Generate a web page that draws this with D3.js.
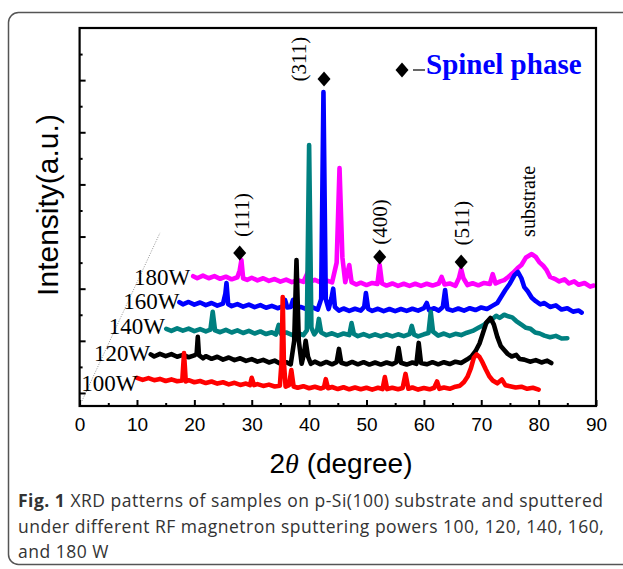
<!DOCTYPE html>
<meta charset="utf-8">
<script src="https://d3js.org/d3.v7.min.js"></script>
<style>
  body { margin: 0; background: #fff; }
</style>
<div id="chart"></div>
<script>
  // 2theta (degree), intensity (a.u.)
  var s100 = [[10,58],[11,50],[12,57],[13,49],[14,54],[15,46],[16,52],[17,45],[17.9,48],[18.2,153],[18.5,44],[19,49],[20,41],[21,46],[22,38],[23,44],[24,36],[25,41],[26,33],[27,39],[28,31],[29,36],[29.7,30],[30,58],[30.4,30],[31,34],[32,27],[33,32],[34,25],[34.9,28],[35.2,120],[35.4,368],[35.6,120],[35.9,24],[36.5,30],[36.9,88],[37.3,25],[38,20],[39,26],[40,18],[41,24],[42,17],[42.6,22],[42.9,53],[43.3,18],[44,23],[45,15],[46,22],[47,14],[48,21],[49,14],[50,20],[51,13],[52,20],[52.8,15],[53.2,61],[53.6,15],[54.5,20],[55.5,14],[56.3,19],[56.8,73],[57.3,16],[58,21],[59,13],[60,19],[61,14],[61.8,20],[62.3,44],[62.7,16],[63.5,21],[64.5,16],[65.5,24],[66.3,28],[67,42],[67.6,62],[68.2,95],[68.7,135],[69.2,148],[69.7,138],[70.2,118],[70.8,90],[71.4,64],[72,48],[72.8,37],[73.6,52],[74.2,30],[75,26],[76,21],[77,24],[78,16],[79,20],[80,13]];
  var s120 = [[12.4,148],[13,140],[14,150],[15,141],[16,149],[17,139],[18,146],[19,137],[20,144],[20.4,150],[20.6,215],[20.8,145],[21.5,133],[22,141],[23,131],[24,139],[25,128],[26,136],[27,126],[28,133],[29,123],[30,130],[31,120],[32,127],[33,117],[34,124],[35,112],[36,118],[36.8,110],[37.4,200],[37.8,510],[38.2,200],[38.7,112],[39.1,150],[39.4,200],[39.8,140],[40.3,112],[41,120],[42,110],[43,119],[44,110],[44.8,118],[45.2,169],[45.6,116],[46.5,110],[47.5,119],[48.5,110],[49.5,118],[50.5,109],[51.5,117],[52.5,109],[53.5,117],[54.5,110],[55.2,118],[55.6,172],[56,116],[57,109],[58,117],[58.7,112],[59.1,192],[59.5,115],[60.5,110],[61.5,118],[62.5,110],[63.5,118],[64.5,111],[65.5,120],[66.5,115],[67.5,128],[68.3,140],[69,160],[69.7,190],[70.3,230],[70.9,270],[71.6,288],[72.2,262],[72.8,215],[73.4,180],[74,165],[74.6,150],[75.3,140],[76.1,146],[76.7,130],[77.5,128],[78.5,120],[79.5,126],[80.5,117],[81.5,124],[82.2,115]];
  var s140 = [[15.1,246],[16,238],[17,248],[18,239],[19,247],[20,237],[21,245],[22,236],[22.8,243],[23.2,311],[23.6,240],[24.5,233],[25.5,242],[26.5,232],[27.5,240],[28.5,230],[29.5,238],[30.5,228],[31.5,236],[32.5,226],[33.5,233],[34.2,224],[34.7,261],[35.1,226],[36,232],[37,223],[38,230],[39,222],[39.6,240],[40.0,951],[40.4,250],[40.9,225],[41.4,240],[41.7,284],[42.1,232],[43,222],[44,229],[45,220],[46,228],[47,222],[47.4,268],[47.8,226],[48.5,218],[49.5,226],[50.5,217],[51.5,225],[52.5,217],[53.5,225],[54.5,217],[55.5,225],[56.5,218],[57.5,226],[57.9,257],[58.3,224],[59,217],[60,225],[60.8,230],[61.2,311],[61.6,235],[62.5,220],[63.5,228],[64.5,219],[65.5,227],[66.5,222],[67.5,231],[68.5,238],[69.5,250],[70.5,262],[71.3,276],[72,285],[72.6,296],[73.2,288],[74,300],[74.7,294],[75.4,290],[76.1,276],[77,262],[77.8,250],[78.6,246],[79.4,232],[80.2,228],[81,220],[82,214],[83,219],[84,209],[85,210]];
  var s160 = [[17.4,348],[18,340],[19,349],[20,339],[21,347],[22,337],[23,345],[24,335],[25,343],[25.4,380],[25.6,422],[25.9,340],[26.5,333],[27.5,341],[28.5,331],[29.5,339],[30.5,329],[31.5,337],[32.5,327],[33.5,334],[34.5,325],[35.4,332],[35.8,357],[36.2,328],[36.8,330],[37.2,357],[37.6,326],[38.5,330],[39.5,322],[40.5,329],[41.5,320],[42.1,360],[42.5,1154],[42.9,360],[43.4,322],[43.9,365],[44.2,400],[44.5,330],[45.2,316],[46,324],[47,315],[48,323],[49,316],[49.6,330],[49.9,383],[50.3,322],[51,315],[52,323],[53,314],[54,322],[55,314],[56,322],[57,315],[58,323],[59,316],[60,325],[60.5,345],[60.9,318],[61.8,325],[62.6,316],[63.3,330],[63.7,395],[64.1,322],[65,316],[66,324],[67,316],[68,325],[69,318],[70,328],[71,322],[72,335],[72.8,345],[73.5,370],[74.2,395],[75,420],[75.8,452],[76.4,464],[77,440],[77.5,406],[78.1,390],[78.8,365],[79.5,352],[80.3,340],[81,345],[82,330],[83,336],[84,320],[85,325],[86,312],[87,316],[87.5,308]];
  var s180 = [[19.8,448],[20.5,440],[21.5,450],[22.5,440],[23.5,448],[24.5,438],[25.5,446],[26.5,436],[27.5,444],[27.9,470],[28.2,510],[28.5,440],[29.2,434],[30,442],[31,432],[32,440],[33,430],[34,437],[35,427],[36,435],[37,425],[38,433],[39,426],[39.8,464],[40.3,428],[41,434],[42,424],[43,432],[44,424],[44.8,500],[45.3,863],[45.8,520],[46.3,425],[47,491],[47.4,425],[48.2,416],[49,423],[50,414],[51,422],[51.9,418],[52.3,491],[52.7,420],[53.5,412],[54.5,420],[55.5,411],[56.5,419],[57.5,411],[58.5,419],[59.5,411],[60.5,419],[61.5,412],[62.6,420],[63.1,445],[63.6,416],[64.5,420],[65.5,411],[66.1,440],[66.5,475],[66.9,440],[67.6,414],[68.5,421],[69.5,413],[70.5,422],[71.5,418],[72,456],[72.5,420],[73.3,428],[74,433],[74.7,445],[75.5,460],[76.3,478],[77,491],[77.8,520],[78.8,533],[79.5,522],[80.1,502],[80.8,488],[81.4,471],[82,445],[82.8,438],[83.6,428],[84.5,436],[85.3,420],[86.2,428],[87,415],[88,422],[89,408],[89.6,412]];

  var seriesNames = ["180W", "160W", "140W", "120W", "100W"];
  var seriesData = [s180, s160, s140, s120, s100];
  var seriesColors = ["#ff00ff", "#0000ff", "#008080", "#000000", "#ff0000"];
  // where each power label sits (2theta, intensity)
  var labelX = [19.3, 17.4, 14.9, 12.3, 10.1];
  var labelY = [413, 321, 226, 122, 7];

  // spinel peaks: hkl, 2theta, intensity of marker
  var peakHkl = ["(111)", "(311)", "(400)", "(511)"];
  var peakX = [27.9, 42.6, 52.3, 66.5];
  var peakY = [537, 1204, 522, 502];

  var xTicks = [0, 10, 20, 30, 40, 50, 60, 70, 80, 90];
  var xMinor = [5, 15, 25, 35, 45, 55, 65, 75, 85];
  var yMajor = [0, 200, 400, 600, 800, 1000, 1200];
  var yMinor = [100, 300, 500, 700, 900, 1100, 1300];

  var W = 623, H = 569;
  var svg = d3.select("#chart").append("svg")
    .attr("width", W)
    .attr("height", H)
    .style("font-family", "'Liberation Sans', Arial, sans-serif");

  // outer figure box
  svg.append("rect")
    .attr("x", 8.5).attr("y", 12.5)
    .attr("width", 640).attr("height", 552)
    .attr("rx", 10)
    .attr("fill", "none")
    .attr("stroke", "#555")
    .attr("stroke-width", 1.5);

  var x = d3.scaleLinear().domain([0, 90]).range([79.6, 596]);
  var y = d3.scaleLinear().domain([-50, 1400]).range([406, 28]);

  var plot = svg.append("g");

  // dotted guide line at the left
  plot.append("line")
    .attr("x1", x(0.4)).attr("y1", y(-31))
    .attr("x2", x(14)).attr("y2", y(614))
    .attr("stroke", "#777")
    .attr("stroke-width", 0.8)
    .attr("stroke-dasharray", "1,1.5");

  var line = d3.line()
    .x(function (d) { return x(d[0]); })
    .y(function (d) { return y(d[1]); });

  plot.selectAll(".xrd")
    .data(seriesData)
    .enter()
    .append("path")
    .attr("class", "xrd")
    .attr("d", line)
    .attr("fill", "none")
    .attr("stroke", function (d, i) { return seriesColors[i]; })
    .attr("stroke-width", 4.6)
    .attr("stroke-linejoin", "round")
    .attr("stroke-linecap", "round");

  // power labels
  plot.selectAll(".plabel")
    .data(seriesNames)
    .enter()
    .append("text")
    .attr("x", function (d, i) { return x(labelX[i]); })
    .attr("y", function (d, i) { return y(labelY[i]); })
    .attr("text-anchor", "end")
    .style("font-family", "'Liberation Serif', 'Times New Roman', serif")
    .style("font-size", "23px")
    .text(function (d) { return d; });

  // axes, ticks point inward
  var gx = plot.append("g").attr("transform", "translate(0," + y(-50) + ")");
  gx.call(d3.axisBottom(x).tickValues(xTicks).tickSize(-6).tickPadding(12).tickFormat(d3.format("d")));
  gx.append("g").call(d3.axisBottom(x).tickValues(xMinor).tickSize(-3).tickFormat(""));
  gx.selectAll(".domain").remove();
  gx.selectAll("line").attr("stroke", "#000").attr("stroke-width", 2);
  gx.selectAll("text")
    .style("font-family", "'Liberation Sans', Arial, sans-serif")
    .style("font-size", "19px")
    .attr("fill", "#000");

  var gy = plot.append("g").attr("transform", "translate(" + x(0) + ",0)");
  gy.call(d3.axisLeft(y).tickValues(yMajor).tickSize(-6).tickFormat(""));
  gy.append("g").call(d3.axisLeft(y).tickValues(yMinor).tickSize(-3).tickFormat(""));
  gy.selectAll(".domain").remove();
  gy.selectAll("line").attr("stroke", "#000").attr("stroke-width", 2);

  // frame
  plot.append("rect")
    .attr("x", x(0)).attr("y", y(1400))
    .attr("width", x(90) - x(0))
    .attr("height", y(-50) - y(1400))
    .attr("fill", "none")
    .attr("stroke", "#000")
    .attr("stroke-width", 2.2);

  var diamond = "M0,-7.5L6.5,0L0,7.5L-6.5,0Z";

  plot.selectAll(".dia")
    .data(peakX)
    .enter()
    .append("path")
    .attr("d", diamond)
    .attr("transform", function (d, i) { return "translate(" + x(d) + "," + y(peakY[i]) + ")"; })
    .attr("fill", "#000");

  // hkl labels, rotated
  var hklDx = [9, -18, 7, 8];
  var hklDy = [-38, -20, -35, -39];
  plot.selectAll(".hkl")
    .data(peakHkl)
    .enter()
    .append("text")
    .attr("transform", function (d, i) {
      return "translate(" + (x(peakX[i]) + hklDx[i]) + "," + (y(peakY[i]) + hklDy[i]) + ") rotate(-90)";
    })
    .attr("text-anchor", "middle")
    .style("font-family", "'Liberation Serif', 'Times New Roman', serif")
    .style("font-size", "21px")
    .text(function (d) { return d; });

  plot.append("text")
    .attr("transform", "translate(" + x(79.3) + "," + y(735) + ") rotate(-90)")
    .attr("text-anchor", "middle")
    .style("font-family", "'Liberation Serif', 'Times New Roman', serif")
    .style("font-size", "20px")
    .text("substrate");

  // legend
  var leg = plot.append("g").attr("transform", "translate(402,70)");
  leg.append("path").attr("d", diamond).attr("fill", "#000");
  leg.append("line")
    .attr("x1", 11).attr("x2", 23).attr("y1", 0).attr("y2", 0)
    .attr("stroke", "#000").attr("stroke-width", 1.2);
  leg.append("text")
    .attr("x", 24).attr("y", 4)
    .style("font-family", "'Liberation Serif', 'Times New Roman', serif")
    .style("font-weight", "bold")
    .style("font-size", "29px")
    .attr("fill", "#0000ff")
    .text("Spinel phase");

  // axis titles
  svg.append("text")
    .attr("transform", "translate(58,205) rotate(-90)")
    .attr("text-anchor", "middle")
    .style("font-size", "30px")
    .text("Intensity(a.u.)");

  var xt = svg.append("text")
    .attr("x", 341).attr("y", 473)
    .attr("text-anchor", "middle")
    .style("font-size", "28px");
  xt.append("tspan").text("2");
  xt.append("tspan")
    .style("font-family", "'Liberation Serif', serif")
    .style("font-style", "italic")
    .text("\u03b8");
  xt.append("tspan").text(" (degree)");

  // caption
  var capLines = [
    "XRD patterns of samples on p-Si(100) substrate and sputtered",
    "under different RF magnetron sputtering powers 100, 120, 140, 160,",
    "and 180 W"
  ];
  var cap = svg.append("g")
    .style("font-family", "'Open Sans', 'Noto Sans', sans-serif")
    .style("font-size", "17.5px")
    .style("letter-spacing", "0.5px")
    .attr("fill", "#333");
  capLines.forEach(function (t, i) {
    var tx = cap.append("text").attr("x", 18).attr("y", 507 + i * 25.5);
    if (i === 0) {
      tx.append("tspan").style("font-weight", "bold").text("Fig. 1");
      tx.append("tspan").text(" " + t);
    } else {
      tx.text(t);
    }
  });
</script>
